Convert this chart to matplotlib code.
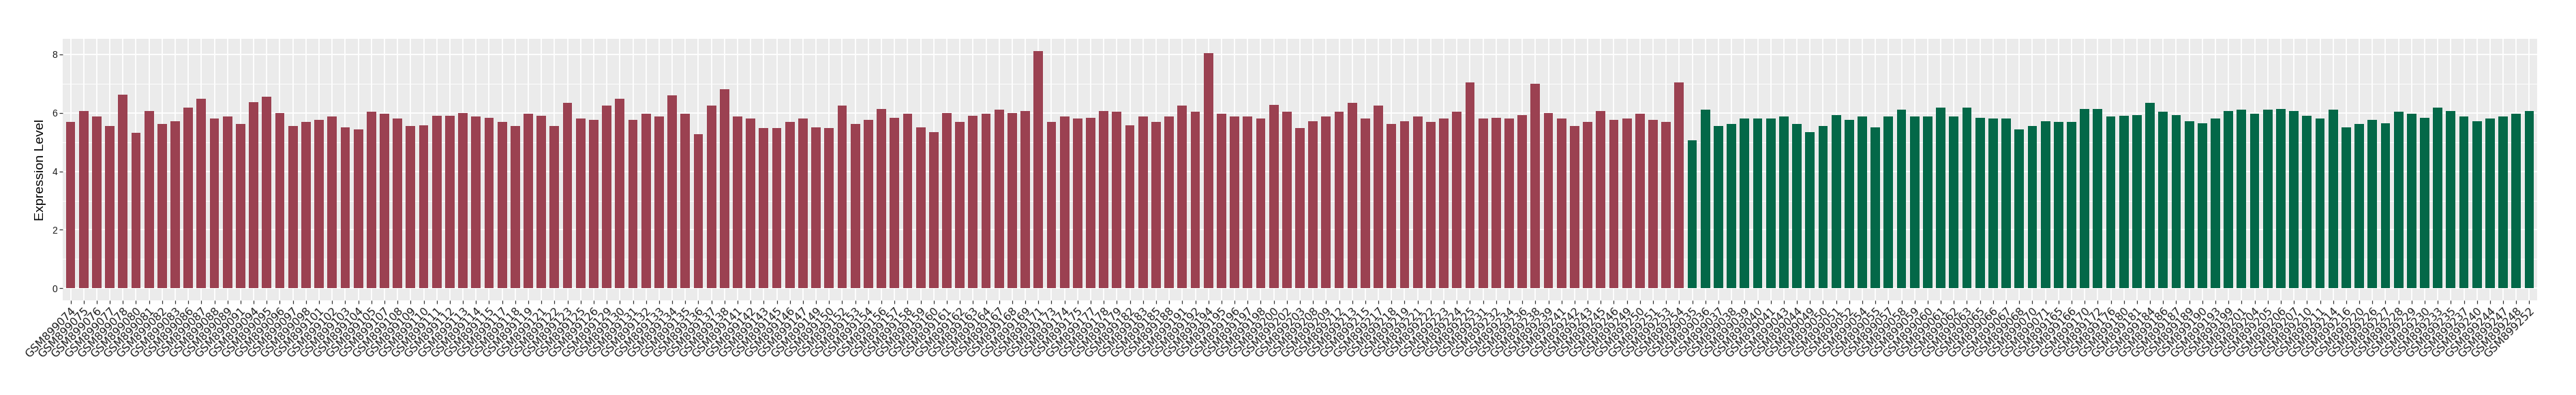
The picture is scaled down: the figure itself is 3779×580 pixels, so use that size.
import matplotlib
matplotlib.use("Agg")

import numpy as np
import matplotlib.pyplot as plt
from matplotlib.ticker import MultipleLocator

# group 1 (red) sample ids and expression values
tumor_ids = [
    "074", "075", "076", "077", "078", "080", "081", "082", "083", "086",
    "087", "088", "089", "091", "094", "095", "096", "097", "098", "101",
    "102", "103", "104", "105", "107", "108", "109", "110", "111", "112",
    "113", "114", "115", "117", "118", "119", "121", "122", "123", "125",
    "126", "129", "130", "131", "132", "133", "134", "135", "136", "137",
    "138", "141", "142", "143", "145", "146", "147", "149", "150", "152",
    "153", "154", "156", "157", "158", "159", "160", "161", "162", "163",
    "164", "167", "168", "169", "171", "173", "174", "175", "177", "178",
    "179", "182", "183", "185", "188", "191", "192", "194", "195", "196",
    "197", "198", "200", "202", "203", "208", "209", "212", "213", "215",
    "217", "218", "219", "221", "222", "223", "224", "225", "231", "232",
    "234", "236", "238", "239", "241", "242", "243", "245", "246", "249",
    "250", "251", "253", "254",
]
tumor_values = [
    5.70, 6.07, 5.87, 5.54, 6.63, 5.31, 6.07, 5.61, 5.72, 6.19,
    6.49, 5.80, 5.87, 5.61, 6.37, 6.56, 6.00, 5.56, 5.68, 5.77,
    5.87, 5.51, 5.44, 6.05, 5.96, 5.80, 5.56, 5.58, 5.91, 5.91,
    6.00, 5.87, 5.84, 5.70, 5.54, 5.96, 5.91, 5.56, 6.35, 5.81,
    5.77, 6.24, 6.47, 5.75, 5.98, 5.87, 6.59, 5.96, 5.28, 6.24,
    6.80, 5.87, 5.81, 5.49, 5.49, 5.70, 5.81, 5.51, 5.47, 6.26,
    5.63, 5.75, 6.14, 5.84, 5.96, 5.51, 5.35, 6.00, 5.68, 5.91,
    5.96, 6.10, 6.00, 6.07, 8.12, 5.70, 5.88, 5.81, 5.84, 6.07,
    6.05, 5.58, 5.87, 5.70, 5.87, 6.26, 6.05, 8.03, 5.98, 5.88,
    5.88, 5.81, 6.28, 6.05, 5.49, 5.72, 5.87, 6.05, 6.33, 5.81,
    6.26, 5.61, 5.72, 5.88, 5.68, 5.81, 6.05, 7.05, 5.81, 5.84,
    5.80, 5.93, 7.00, 6.00, 5.81, 5.56, 5.68, 6.07, 5.77, 5.81,
    5.96, 5.77, 5.70, 7.05,
]

# group 2 (green)
normal_ids = [
    "035", "036", "037", "038", "039", "040", "041", "043", "044", "049",
    "050", "051", "052", "054", "055", "057", "058", "059", "060", "061",
    "062", "063", "065", "066", "067", "068", "070", "071", "165", "166",
    "170", "172", "176", "180", "181", "184", "186", "187", "189", "190",
    "193", "199", "201", "204", "205", "206", "207", "210", "211", "214",
    "216", "220", "226", "227", "228", "229", "230", "233", "235", "237",
    "240", "244", "247", "248", "252",
]
normal_values = [
    5.05, 6.12, 5.54, 5.63, 5.80, 5.80, 5.81, 5.88, 5.63, 5.35,
    5.56, 5.93, 5.75, 5.87, 5.51, 5.87, 6.12, 5.87, 5.88, 6.17,
    5.87, 6.17, 5.84, 5.81, 5.81, 5.44, 5.56, 5.72, 5.70, 5.70,
    6.14, 6.14, 5.87, 5.91, 5.93, 6.33, 6.05, 5.93, 5.72, 5.65,
    5.81, 6.07, 6.10, 5.98, 6.12, 6.14, 6.07, 5.91, 5.80, 6.12,
    5.51, 5.61, 5.77, 5.65, 6.05, 5.98, 5.84, 6.17, 6.07, 5.87,
    5.72, 5.80, 5.88, 5.98, 6.07,
]

RED = "#9B4151"
GREEN = "#036848"

labels = ["GSM899" + s for s in tumor_ids + normal_ids]
values = tumor_values + normal_values
colors = [RED] * len(tumor_ids) + [GREEN] * len(normal_ids)
x = np.arange(len(labels))

fig = plt.figure(figsize=(37.8, 5.8), dpi=100)
ax = fig.add_axes([92 / 3780, 139 / 580, 3630 / 3780, 384 / 580])

ax.set_facecolor("#EBEBEB")
ax.bar(x, values, width=0.72, color=colors, zorder=3)

ax.set_xlim(-0.6, len(labels) - 0.4)
ax.set_ylim(-0.41, 8.53)

ax.yaxis.set_major_locator(MultipleLocator(2))
ax.yaxis.set_minor_locator(MultipleLocator(1))
ax.set_xticks(x)
ax.set_xticklabels(labels, rotation=45, ha="right", va="top",
                   rotation_mode="anchor", fontsize=11.5,
                   family="DejaVu Sans", color="#1a1a1a")

ax.grid(True, which="major", color="white", linewidth=1.3, zorder=1)
ax.grid(True, which="minor", axis="y", color="white", linewidth=0.7, zorder=1)

for spine in ax.spines.values():
    spine.set_visible(False)

ax.tick_params(axis="both", which="major", length=3.5, width=0.9,
               color="#333333", pad=2)
ax.tick_params(axis="y", which="minor", length=0)
ax.tick_params(axis="y", labelsize=10, labelcolor="#1a1a1a")
for lab in ax.get_yticklabels():
    lab.set_family("Liberation Sans")

ax.set_ylabel("Expression Level", fontsize=14, family="Liberation Sans",
              labelpad=6)

fig.savefig("out.png", dpi=100)
